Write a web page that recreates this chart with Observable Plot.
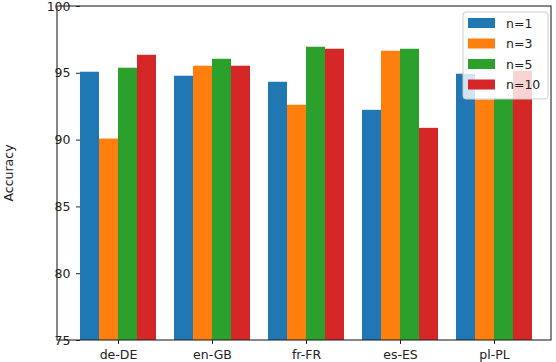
<!DOCTYPE html>
<html><head><meta charset="utf-8">
<script src="https://cdn.jsdelivr.net/npm/d3@7"></script>
<script src="https://cdn.jsdelivr.net/npm/@observablehq/plot@0.6"></script>
<style>
body{margin:0;background:#fff;}
#chart{position:relative;width:556px;height:362px;}
</style></head><body><div id="chart"></div>
<script>
const categories = ["de-DE", "en-GB", "fr-FR", "es-ES", "pl-PL"];
const seriesNames = ["n=1", "n=3", "n=5", "n=10"];
const n1  = [95.08, 94.78, 94.33, 92.23, 94.93];
const n3  = [90.08, 95.53, 92.61, 96.65, 93.00];
const n5  = [95.38, 96.05, 96.95, 96.80, 93.05];
const n10 = [96.35, 95.53, 96.80, 90.88, 95.15];
const yTicks = [75, 80, 85, 90, 95, 100];
const colors = ["#1f77b4", "#ff7f0e", "#2ca02c", "#d62728"];
const yLabel = "Accuracy";

(function () {
const seriesValues = [n1, n3, n5, n10];
const yMin = yTicks[0], yMax = yTicks[yTicks.length - 1];
const rows = [];
categories.forEach((c, i) => seriesNames.forEach((s, j) => rows.push({lang: c, series: s, value: seriesValues[j][i]})));

const W = 556, H = 362, mL = 57, mR = 5, mT = 6, mB = 22;
const chart = Plot.plot({
  width: W, height: H,
  marginLeft: mL, marginRight: mR, marginTop: mT, marginBottom: mB,
  style: {fontFamily: "DejaVu Sans", fontSize: "12.5px", color: "#222", background: "#fff"},
  facet: {data: rows, x: "lang"},
  fx: {domain: categories, paddingInner: 0.194, paddingOuter: 0.218, align: 0.55, label: null, tickSize: 4, tickPadding: 6},
  x: {domain: seriesNames, axis: null, padding: 0},
  y: {domain: [yMin, yMax], ticks: yTicks, tickSize: 4, tickPadding: 6, label: null},
  color: {domain: seriesNames, range: colors},
  marks: [
    Plot.barY(rows, {x: "series", y1: yMin, y2: "value", fill: "series"})
  ]
});
document.getElementById("chart").appendChild(chart);

const svgEl = chart.tagName.toLowerCase() === "svg" ? chart : chart.querySelector("svg");
const svg = d3.select(svgEl);
const ys = chart.scale("y");
const yTop = ys.apply(yMax), yBottom = ys.apply(yMin);
svg.append("rect")
  .attr("x", mL).attr("y", yTop)
  .attr("width", W - mL - mR).attr("height", yBottom - yTop)
  .attr("fill", "none").attr("stroke", "#262626").attr("stroke-width", 1.1);

// y-axis title
svg.append("text")
  .attr("transform", `translate(8,${(yTop + yBottom) / 2}) rotate(-90)`)
  .attr("text-anchor", "middle").attr("dy", "0.36em")
  .attr("font-family", "DejaVu Sans").attr("font-size", "12.5px").attr("fill", "#222")
  .text(yLabel);

// legend
const lw = 85, lh = 87;
const lx = W - mR - 3 - lw, ly = yTop + 6;
const lg = svg.append("g").attr("font-family", "DejaVu Sans").attr("font-size", "12.5px").attr("text-anchor", "start");
lg.append("rect").attr("x", lx).attr("y", ly).attr("width", lw).attr("height", lh)
  .attr("rx", 3).attr("fill", "white").attr("fill-opacity", 0.8).attr("stroke", "#cccccc");
seriesNames.forEach((s, i) => {
  const cy = ly + 11 + i * 20.5;
  lg.append("rect").attr("x", lx + 5).attr("y", cy - 5).attr("width", 27).attr("height", 10).attr("fill", colors[i]);
  lg.append("text").attr("x", lx + 43).attr("y", cy).attr("dy", "0.36em").attr("fill", "#222").text(s);
});
})();
</script></body></html>
